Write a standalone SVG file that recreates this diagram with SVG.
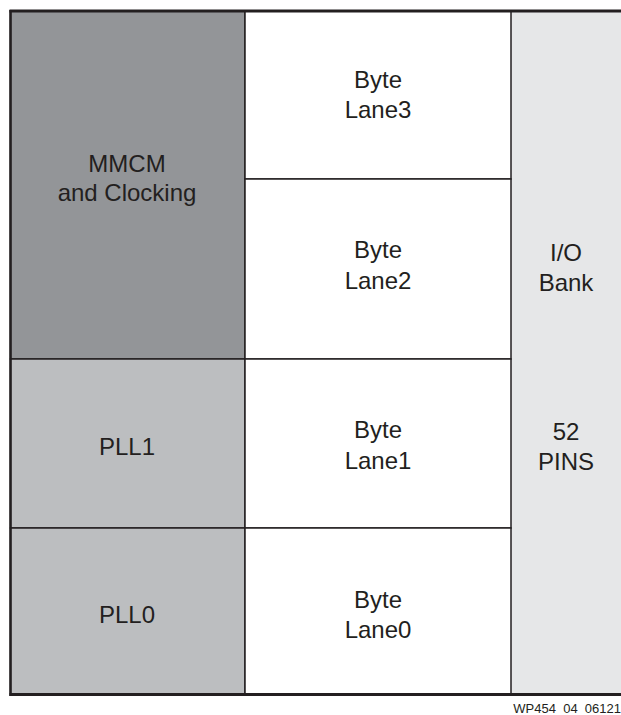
<svg xmlns="http://www.w3.org/2000/svg" width="621" height="715" viewBox="0 0 621 715">
<style>
.t{font-family:"Liberation Sans",Arial,sans-serif;font-size:24px;fill:#231f20;text-anchor:middle}
.ft{font-family:"Liberation Sans",Arial,sans-serif;font-size:13px;fill:#231f20;text-anchor:end;white-space:pre}
.cell{stroke:#231f20;stroke-width:1.5}
</style>
<rect width="621" height="715" fill="#ffffff"/>
<g id="io-bank">
<rect x="511" y="11" width="110" height="683" fill="#e6e7e8"/>
<text class="t" x="566" y="261">I/O</text>
<text class="t" x="566" y="291">Bank</text>
<text class="t" x="566" y="440">52</text>
<text class="t" x="566" y="470">PINS</text>
</g>
<g id="mmcm">
<rect class="cell" x="10.5" y="11" width="234.5" height="348" fill="#939598"/>
<text class="t" x="127" y="172">MMCM</text>
<text class="t" x="127" y="201">and Clocking</text>
</g>
<g id="pll1">
<rect class="cell" x="10.5" y="359" width="234.5" height="169" fill="#bcbec0"/>
<text class="t" x="127" y="455">PLL1</text>
</g>
<g id="pll0">
<rect class="cell" x="10.5" y="528" width="234.5" height="166" fill="#bcbec0"/>
<text class="t" x="127" y="623">PLL0</text>
</g>
<g id="lane3">
<rect class="cell" x="245" y="11" width="266" height="168" fill="#ffffff"/>
<text class="t" x="378" y="88">Byte</text>
<text class="t" x="378" y="118">Lane3</text>
</g>
<g id="lane2">
<rect class="cell" x="245" y="179" width="266" height="180" fill="#ffffff"/>
<text class="t" x="378" y="258">Byte</text>
<text class="t" x="378" y="289">Lane2</text>
</g>
<g id="lane1">
<rect class="cell" x="245" y="359" width="266" height="169" fill="#ffffff"/>
<text class="t" x="378" y="438">Byte</text>
<text class="t" x="378" y="469">Lane1</text>
</g>
<g id="lane0">
<rect class="cell" x="245" y="528" width="266" height="166" fill="#ffffff"/>
<text class="t" x="378" y="608">Byte</text>
<text class="t" x="378" y="638">Lane0</text>
</g>
<g id="frame">
<line x1="9.5" y1="11" x2="621" y2="11" stroke="#231f20" stroke-width="3"/>
<line x1="9.5" y1="694.5" x2="621" y2="694.5" stroke="#231f20" stroke-width="3"/>
<line x1="10.5" y1="10" x2="10.5" y2="696" stroke="#231f20" stroke-width="2.5"/>
</g>
<text class="ft" x="621" y="713" xml:space="preserve">WP454  04  06121</text>
</svg>
